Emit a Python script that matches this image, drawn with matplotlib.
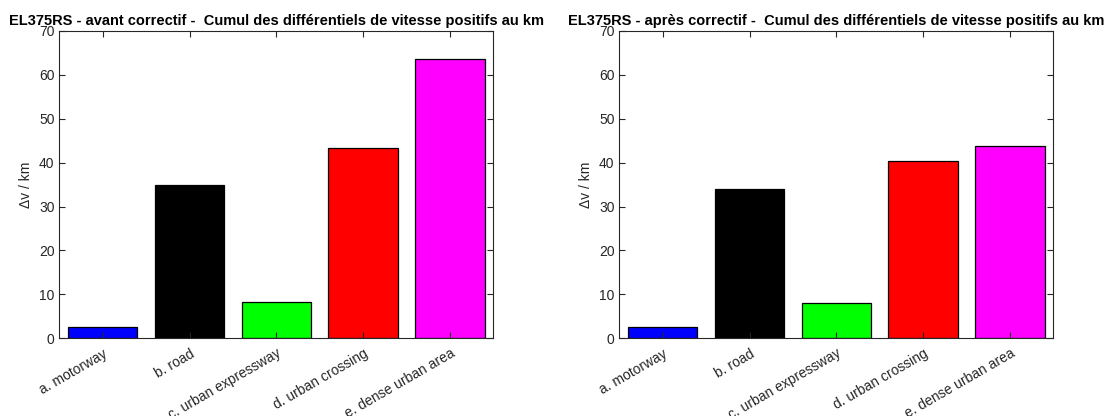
import numpy as np
import matplotlib.pyplot as plt

plt.rcParams['font.family'] = ['Liberation Sans', 'DejaVu Sans']

# Cumul des différentiels de vitesse positifs au km, par type de route
categories = ['a. motorway', 'b. road', 'c. urban expressway',
              'd. urban crossing', 'e. dense urban area']
avant = [2.5, 35.0, 8.3, 43.3, 63.7]
apres = [2.65, 33.9, 8.05, 40.4, 43.9]
colours = ['#0000ff', '#000000', '#00ff00', '#ff0000', '#ff00ff']

titles = ['EL375RS - avant correctif -  Cumul des différentiels de vitesse positifs au km',
          'EL375RS - après correctif -  Cumul des différentiels de vitesse positifs au km']

fig = plt.figure(figsize=(11.05, 4.16), dpi=100)
ax1 = fig.add_axes([0.0537, 0.1868, 0.3928, 0.7387])
ax2 = fig.add_axes([0.5605, 0.1868, 0.3928, 0.7387])

x = np.arange(1, len(categories) + 1)
for ax, vals, tt in zip([ax1, ax2], [avant, apres], titles):
    ax.bar(x, vals, width=0.8, color=colours, edgecolor='k', linewidth=0.9)
    ax.set_xlim(0.5, 5.5)
    ax.set_ylim(0, 70)
    ax.set_yticks(np.arange(0, 71, 10))
    ax.set_xticks(x)
    ax.set_xticklabels(categories, rotation=30, ha='right', rotation_mode='anchor',
                       fontsize=10, color='#262626')
    ax.tick_params(direction='in', top=True, right=True, length=4, width=0.8,
                   colors='#262626', labelsize=10)
    ax.tick_params(axis='x', pad=6)
    for lbl in ax.get_yticklabels():
        lbl.set_color('#262626')
    for s in ax.spines.values():
        s.set_color('#262626')
        s.set_linewidth(0.8)
    ax.set_ylabel('Δv / km', fontsize=10, color='#262626', labelpad=4)
    ax.set_title(tt, fontsize=10.5, fontweight='bold', pad=4)

plt.savefig('out.png', dpi=100)
